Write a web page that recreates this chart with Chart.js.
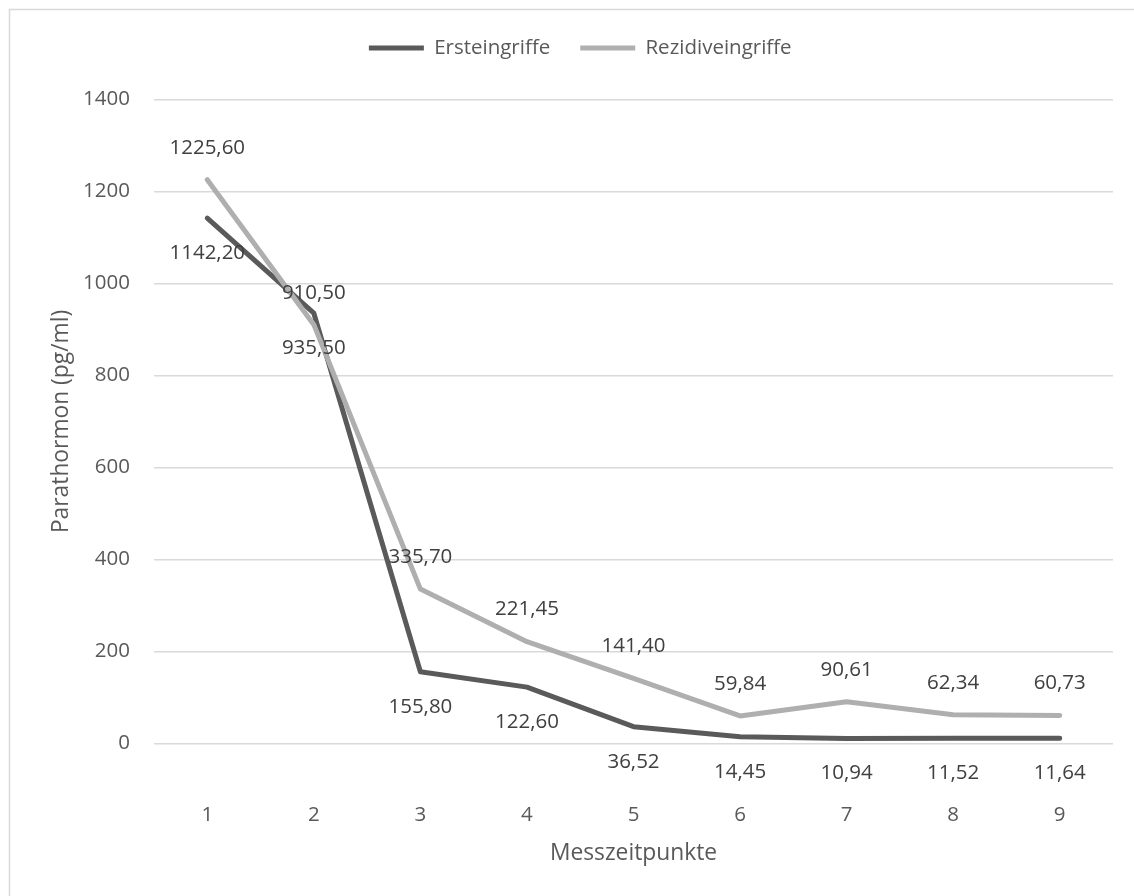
<!DOCTYPE html>
<html>
<head>
<meta charset="utf-8">
<script src="https://cdn.jsdelivr.net/npm/chart.js@4/dist/chart.umd.min.js"></script>
<style>
  html, body { margin: 0; padding: 0; background: #ffffff; }
  #wrap { width: 1134px; height: 896px; position: relative; }
</style>
</head>
<body>
<div id="wrap"><canvas id="chart" width="1134" height="896"></canvas></div>
<script>
// Messzeitpunkte (Kategorien der x-Achse)
const categories = ['1', '2', '3', '4', '5', '6', '7', '8', '9'];

// Parathormon-Mittelwerte (pg/ml)
const ersteingriffe = [1142.20, 935.50, 155.80, 122.60, 36.52, 14.45, 10.94, 11.52, 11.64];
const rezidiveingriffe = [1225.60, 910.50, 335.70, 221.45, 141.40, 59.84, 90.61, 62.34, 60.73];

const seriesNames = ['Ersteingriffe', 'Rezidiveingriffe'];
const yTicks = [0, 200, 400, 600, 800, 1000, 1200, 1400];

const FONT = '"Open Sans", Lato, sans-serif';
const FS = 20.5;        // ticks, legend, value labels
const FS_TITLE = 22.8;  // axis titles
const TEXT = '#595959';

// white background and thin frame around the whole chart
const framePlugin = {
  id: 'frame',
  beforeDraw(chart) {
    const ctx = chart.ctx;
    ctx.save();
    ctx.fillStyle = '#ffffff';
    ctx.fillRect(0, 0, chart.width, chart.height);
    ctx.strokeStyle = '#D9D9D9';
    ctx.lineWidth = 1.5;
    ctx.strokeRect(9.5, 9.5, chart.width + 20, chart.height + 20);
    ctx.restore();
  }
};

// extra space between the legend and the plot area; legend nudged right
const spacerPlugin = {
  id: 'legendSpacer',
  beforeInit(chart) {
    const box = {
      position: 'top',
      weight: 500,
      fullSize: true,
      options: { stack: undefined, stackWeight: 1 },
      left: 0, top: 0, right: 0, bottom: 0, width: 0, height: 0,
      isHorizontal() { return true; },
      update(maxWidth) { this.width = maxWidth; this.height = 31.25; },
      draw() {}
    };
    Chart.layouts.addBox(chart, box);
  },
  afterLayout(chart) {
    if (chart.legend) {
      chart.legend.left += 18.75;
      chart.legend.right += 18.75;
    }
  }
};

// value labels (German decimal comma) above / below each point
const valueLabels = {
  id: 'valueLabels',
  afterDatasetsDraw(chart) {
    const ctx = chart.ctx;
    ctx.save();
    ctx.font = FS + 'px ' + FONT;
    ctx.fillStyle = '#404040';
    ctx.textAlign = 'center';
    ctx.textBaseline = 'middle';
    chart.data.datasets.forEach((ds, i) => {
      const meta = chart.getDatasetMeta(i);
      meta.data.forEach((pt, j) => {
        const txt = ds.data[j].toFixed(2).replace('.', ',');
        ctx.fillText(txt, pt.x, pt.y + ds.labelOffset);
      });
    });
    ctx.restore();
  }
};

new Chart(document.getElementById('chart'), {
  type: 'line',
  data: {
    labels: categories,
    datasets: [
      {
        label: seriesNames[0],
        data: ersteingriffe,
        borderColor: '#5A5A5A',
        backgroundColor: '#5A5A5A',
        borderWidth: 5,
        borderCapStyle: 'round',
        borderJoinStyle: 'round',
        pointRadius: 0,
        pointHoverRadius: 0,
        tension: 0,
        order: 1,
        labelOffset: 35
      },
      {
        label: seriesNames[1],
        data: rezidiveingriffe,
        borderColor: '#AFAFAF',
        backgroundColor: '#AFAFAF',
        borderWidth: 5,
        borderCapStyle: 'round',
        borderJoinStyle: 'round',
        pointRadius: 0,
        pointHoverRadius: 0,
        tension: 0,
        order: 0,
        labelOffset: -32
      }
    ]
  },
  options: {
    responsive: false,
    animation: false,
    devicePixelRatio: 1,
    layout: { padding: { top: 7.75, left: 10, right: 21, bottom: 0 } },
    plugins: {
      tooltip: { enabled: false },
      legend: {
        display: true,
        position: 'top',
        align: 'center',
        labels: {
          usePointStyle: true,
          pointStyle: 'line',
          pointStyleWidth: 55,
          padding: 30,
          color: TEXT,
          font: { family: FONT, size: FS },
          sort: (a, b) => a.datasetIndex - b.datasetIndex
        }
      }
    },
    scales: {
      x: {
        offset: true,
        grid: { display: false, drawTicks: false },
        border: { display: false },
        ticks: { color: TEXT, font: { family: FONT, size: FS }, padding: 59.2, maxRotation: 0 },
        title: {
          display: true,
          text: 'Messzeitpunkte',
          color: TEXT,
          font: { family: FONT, size: FS_TITLE },
          padding: { top: 12, bottom: 29.3 }
        },
        afterFit(scale) { scale.height = 152.5; }
      },
      y: {
        min: yTicks[0],
        max: yTicks[yTicks.length - 1],
        afterBuildTicks(scale) { scale.ticks = yTicks.map(v => ({ value: v })); },
        grid: { color: '#D9D9D9', lineWidth: 1.5, drawTicks: false },
        border: { display: false },
        ticks: {
          color: TEXT,
          font: { family: FONT, size: FS },
          padding: 24,
          callback: v => String(v)
        },
        title: {
          display: true,
          text: 'Parathormon (pg/ml)',
          color: TEXT,
          font: { family: FONT, size: FS_TITLE },
          padding: { top: 38.3, bottom: 0 }
        },
        afterFit(scale) { scale.width = 144; }
      }
    }
  },
  plugins: [framePlugin, spacerPlugin, valueLabels]
});
</script>
</body>
</html>
